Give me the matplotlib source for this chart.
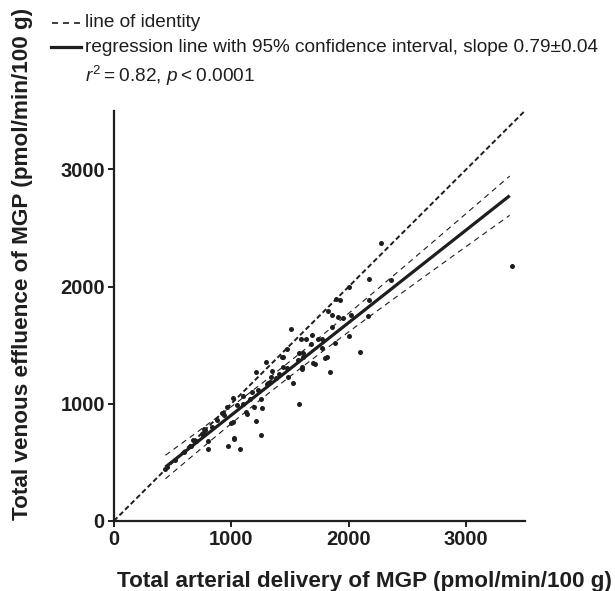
import matplotlib
matplotlib.use("Agg")
import matplotlib.pyplot as plt
from matplotlib.lines import Line2D
import numpy as np

plt.rcParams['font.family'] = ['Liberation Sans', 'DejaVu Sans']
plt.rcParams['mathtext.fontset'] = 'custom'
plt.rcParams['mathtext.rm'] = 'Liberation Sans'
plt.rcParams['mathtext.it'] = 'Liberation Sans:italic'

# ---- data ----
arterial = [2272, 2173, 2360, 2003, 1895, 1924, 2173, 1824, 1853, 1909, 1951, 2023,
            2164, 1861, 2000, 1507, 1691, 1590, 1632, 1739, 1768, 1881, 1677, 1773,
            2093, 1471, 1428, 1578, 1612, 1612, 1569, 1796, 1816, 1697, 1711, 1442,
            1476, 1598, 1839, 1527, 1575, 1484, 1606, 1295, 1207, 1343, 1301, 1314,
            1012, 1097, 1252, 1196, 1263, 1125, 1136, 918, 1017, 995, 1210, 768,
            1252, 1023, 805, 975, 1074, 805, 1026, 932, 762, 748, 777, 677,
            451, 437, 520, 600, 660, 700, 840, 880, 940, 960, 1050, 1100,
            1160, 1180, 1230, 1380, 1410, 1340, 1437, 1329, 3393]
venous = [2368, 2065, 2053, 1997, 1896, 1888, 1888, 1793, 1753, 1736, 1731, 1759,
          1745, 1651, 1579, 1639, 1588, 1551, 1556, 1551, 1554, 1522, 1508, 1474,
          1445, 1465, 1402, 1431, 1436, 1402, 1374, 1388, 1402, 1350, 1337, 1311,
          1302, 1311, 1273, 1174, 997, 1231, 1297, 1354, 1274, 1279, 1165, 1174,
          1051, 1068, 1037, 973, 968, 931, 911, 922, 845, 836, 853, 782,
          731, 703, 682, 639, 617, 617, 708, 922, 751, 745, 774, 694,
          460, 440, 520, 590, 640, 680, 800, 860, 900, 970, 990, 1000,
          1040, 1100, 1120, 1220, 1250, 1230, 1397, 1188, 2179]

identity_range = [0, 3500]
reg_slope = 0.79
reg_intercept = 113
reg_range = [440, 3370]
ci_center = 1414      # x where the confidence band is narrowest
ci_min_half = 64      # half-width of band at its narrowest
ci_slope_half = 0.079 # t * SE(slope)

x_ticks = [0, 1000, 2000, 3000]
y_ticks = [0, 1000, 2000, 3000]
x_label = "Total arterial delivery of MGP (pmol/min/100 g)"
y_label = "Total venous effluence of MGP (pmol/min/100 g)"
legend_lines = ["line of identity",
                "regression line with 95% confidence interval, slope 0.79\u00b10.04",
                r"$r^2$" + "\u2009=\u20090.82, " + r"$p$" + "\u2009<\u20090.0001"]

# ---- figure ----
W, H = 615, 591
fig = plt.figure(figsize=(W / 100, H / 100), dpi=100)
left, right, bottom, top = 113.8, 525, 521, 110.7
ax = fig.add_axes([left / W, 1 - bottom / H, (right - left) / W, (bottom - top) / H])

ink = '#1e1e1e'

# identity line
ax.plot(identity_range, identity_range, color=ink, lw=1.4, dashes=(2.6, 1.5),
        zorder=2, solid_capstyle='butt')

# regression + CI
xr = np.linspace(reg_range[0], reg_range[1], 200)
yr = reg_intercept + reg_slope * xr
half = np.sqrt(ci_min_half ** 2 + (ci_slope_half * (xr - ci_center)) ** 2)
ax.plot(xr, yr, color=ink, lw=2.3, zorder=3, solid_capstyle='butt')
ax.plot(xr, yr + half, color=ink, lw=0.8, dashes=(5, 4), zorder=2)
ax.plot(xr, yr - half, color=ink, lw=0.8, dashes=(5, 4), zorder=2)

# points
ax.scatter(arterial, venous, s=13, color=ink, linewidths=0, zorder=4)

ax.set_xlim(0, 3500)
ax.set_ylim(0, 3500)
ax.set_xticks(x_ticks)
ax.set_yticks(y_ticks)
for s in ['top', 'right']:
    ax.spines[s].set_visible(False)
for s in ['left', 'bottom']:
    ax.spines[s].set_linewidth(1.6)
    ax.spines[s].set_color(ink)
ax.tick_params(axis='both', direction='out', length=4.5, width=1.4, color=ink,
               labelsize=14.5, pad=2, labelcolor=ink)
for lab in ax.get_xticklabels() + ax.get_yticklabels():
    lab.set_fontweight('bold')

fig.text(364 / W, 1 - 587 / H, x_label, ha='center', va='baseline',
         fontsize=16.2, fontweight='bold', color=ink)
fig.text(28.5 / W, 1 - 264 / H, y_label, ha='center', va='baseline', rotation=90,
         rotation_mode='anchor', fontsize=16.2, fontweight='bold', color=ink)

# legend-style annotation
fig.add_artist(Line2D([52 / W, 80 / W], [1 - 22.5 / H, 1 - 22.5 / H],
                      color=ink, lw=1.2, dashes=(3.6, 3.0)))
fig.add_artist(Line2D([51 / W, 81 / W], [1 - 46.5 / H, 1 - 46.5 / H],
                      color=ink, lw=2.3))
fig.text(85 / W, 1 - 27.3 / H, legend_lines[0], ha='left', va='baseline',
         fontsize=13.7, color=ink)
fig.text(85 / W, 1 - 51.7 / H, legend_lines[1], ha='left', va='baseline',
         fontsize=13.7, color=ink)
fig.text(85 / W, 1 - 81.7 / H, legend_lines[2], ha='left', va='baseline',
         fontsize=13.7, color=ink)

fig.savefig("out.png", dpi=100)
